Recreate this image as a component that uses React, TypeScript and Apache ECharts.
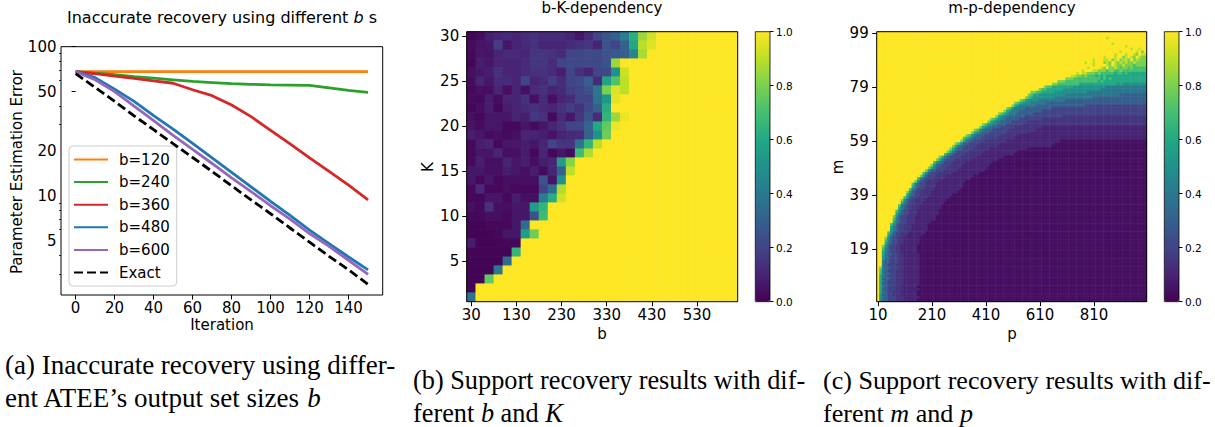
import React, { useEffect, useRef } from "react";
import * as echarts from "echarts";

// ---------------- (a) Inaccurate recovery ----------------
const iterations = [0, 10, 20, 30, 40, 50, 60, 70, 80, 90, 100, 110, 120, 130, 140, 150];
const errB120 = [68, 68, 68, 68, 68, 68, 68, 68, 68, 68, 68, 68, 68, 68, 68, 68];
const errB240 = [68, 66.5, 65, 63, 61.5, 60, 58.5, 57.5, 56.5, 56, 55.5, 55.3, 55, 53, 51, 49.4];
const errB360 = [68, 65.9, 63.5, 61.3, 59.1, 56.9, 51.5, 47, 40.7, 34, 27.5, 22.3, 18, 14.6, 11.8, 9.4];
const errB480 = [68, 62, 52, 43, 34.5, 28, 22.5, 18, 14.4, 11.5, 9.2, 7.4, 5.9, 4.8, 3.9, 3.2];
const errB600 = [68, 60, 50, 40, 32, 25.5, 20.5, 16.5, 13.2, 10.7, 8.6, 7, 5.6, 4.6, 3.7, 2.98];
const errExact = [66, 53.4, 43, 34.4, 27.8, 22.4, 18.1, 14.6, 11.7, 9.4, 7.6, 6.1, 4.9, 3.94, 3.2, 2.56];
const seriesNamesA = ["b=120", "b=240", "b=360", "b=480", "b=600", "Exact"];
const xTicksA = [0, 20, 40, 60, 80, 100, 120, 140];
const yTicksA = [5, 10, 20, 50, 100];
const yMinorTicksA = [3, 4, 6, 7, 8, 9, 30, 40, 60, 70, 80, 90];

// ---------------- (b) b-K-dependency ----------------
const bValues = [30, 50, 70, 90, 110, 130, 150, 170, 190, 210, 230, 250, 270, 290, 310, 330, 350, 370, 390, 410, 430, 450, 470, 490, 510, 530, 550, 570, 590, 610];
const kValues = [1, 2, 3, 4, 5, 6, 7, 8, 9, 10, 11, 12, 13, 14, 15, 16, 17, 18, 19, 20, 21, 22, 23, 24, 25, 26, 27, 28, 29, 30];
// rows from K=30 (top) down to K=1; cells not listed to the right are 1.0 (yellow)
const bkRows = [
  [0.01, 0.03, 0.08, 0.1, 0.12, 0.1, 0.12, 0.14, 0.12, 0.12, 0.12, 0.1, 0.06, 0.12, 0.2, 0.27, 0.3, 0.42, 0.63, 0.85, 0.93],
  [0.03, 0.05, 0.06, 0.18, 0.06, 0.1, 0.12, 0.14, 0.1, 0.1, 0.1, 0.12, 0.14, 0.16, 0.1, 0.25, 0.2, 0.3, 0.6, 0.9, 0.95],
  [0.02, 0.06, 0.05, 0.1, 0.12, 0.12, 0.1, 0.16, 0.16, 0.14, 0.12, 0.2, 0.22, 0.23, 0.22, 0.25, 0.28, 0.3, 0.45, 0.87],
  [0.01, 0.08, 0.06, 0.1, 0.1, 0.1, 0.12, 0.16, 0.15, 0.12, 0.2, 0.22, 0.22, 0.22, 0.22, 0.25, 0.85],
  [0.04, 0.06, 0.08, 0.14, 0.1, 0.1, 0.12, 0.14, 0.14, 0.12, 0.08, 0.2, 0.14, 0.1, 0.2, 0.22, 0.5, 0.92],
  [0.03, 0.1, 0.06, 0.12, 0.12, 0.1, 0.2, 0.1, 0.12, 0.18, 0.12, 0.2, 0.22, 0.3, 0.12, 0.58, 0.72, 0.9],
  [0.02, 0.04, 0.04, 0.1, 0.04, 0.1, 0.04, 0.12, 0.14, 0.1, 0.12, 0.18, 0.2, 0.25, 0.4, 0.8, 0.95, 0.9],
  [0.03, 0.02, 0.08, 0.03, 0.1, 0.1, 0.14, 0.04, 0.12, 0.04, 0.1, 0.12, 0.2, 0.2, 0.38, 0.52, 0.96],
  [0.02, 0.04, 0.08, 0.02, 0.08, 0.1, 0.12, 0.14, 0.12, 0.1, 0.14, 0.18, 0.14, 0.22, 0.3, 0.62],
  [0.04, 0.02, 0.06, 0.06, 0.06, 0.1, 0.08, 0.16, 0.14, 0.02, 0.12, 0.06, 0.15, 0.25, 0.12, 0.65, 0.85, 0.97],
  [0.05, 0.03, 0.06, 0.06, 0.02, 0.02, 0.06, 0.03, 0.06, 0.1, 0.14, 0.2, 0.2, 0.32, 0.6, 0.75, 0.97],
  [0.08, 0.06, 0.03, 0.04, 0.03, 0.04, 0.1, 0.1, 0.08, 0.05, 0.1, 0.12, 0.12, 0.3, 0.5, 0.78],
  [0.02, 0.08, 0.1, 0.02, 0.06, 0.06, 0.08, 0.06, 0.1, 0.2, 0.15, 0.15, 0.38, 0.65, 0.9],
  [0.02, 0.06, 0.06, 0.1, 0.04, 0.04, 0.08, 0.02, 0.1, 0.02, 0.06, 0.03, 0.68, 0.88],
  [0.02, 0.08, 0.04, 0.04, 0.1, 0.06, 0.08, 0.04, 0.08, 0.1, 0.55, 0.82],
  [0.06, 0.06, 0.04, 0.04, 0.08, 0.06, 0.04, 0.08, 0.03, 0.1, 0.3, 0.9],
  [0.06, 0.02, 0.06, 0.02, 0.04, 0.04, 0.04, 0.04, 0.25, 0.05, 0.5],
  [0.02, 0.12, 0.02, 0.02, 0.04, 0.02, 0.02, 0.02, 0.2, 0.35, 0.88],
  [0.02, 0.02, 0.06, 0.06, 0.02, 0.08, 0.04, 0.04, 0.42, 0.62, 0.93],
  [0.04, 0.02, 0.14, 0.04, 0.04, 0.06, 0.06, 0.55, 0.65],
  [0.02, 0.02, 0.04, 0.04, 0.02, 0.06, 0.06, 0.25, 0.68],
  [0.01, 0.01, 0.02, 0.02, 0.02, 0.06, 0.35],
  [0.01, 0.01, 0.01, 0.02, 0.06, 0.06, 0.55, 0.78],
  [0.08, 0.01, 0.01, 0.01, 0.02, 0.02],
  [0.01, 0.01, 0.01, 0.01, 0.01, 0.65],
  [0.01, 0.01, 0.01, 0.01, 0.35],
  [0.01, 0.01, 0.01, 0.4],
  [0.01, 0.01, 0.75],
  [0.01],
  [0.38],
];

// ---------------- (c) m-p-dependency ----------------
const pValues = [10, 20, 30, 40, 50, 60, 70, 80, 90, 100, 110, 120, 130, 140, 150, 160, 170, 180, 190, 200,
  210, 220, 230, 240, 250, 260, 270, 280, 290, 300, 310, 320, 330, 340, 350, 360, 370, 380, 390, 400,
  410, 420, 430, 440, 450, 460, 470, 480, 490, 500, 510, 520, 530, 540, 550, 560, 570, 580, 590, 600,
  610, 620, 630, 640, 650, 660, 670, 680, 690, 700, 710, 720, 730, 740, 750, 760, 770, 780, 790, 800,
  810, 820, 830, 840, 850, 860, 870, 880, 890, 900, 910, 920, 930, 940, 950, 960, 970, 980, 990, 1000];
const mValues = [0, 1, 2, 3, 4, 5, 6, 7, 8, 9, 10, 11, 12, 13, 14, 15, 16, 17, 18, 19,
  20, 21, 22, 23, 24, 25, 26, 27, 28, 29, 30, 31, 32, 33, 34, 35, 36, 37, 38, 39,
  40, 41, 42, 43, 44, 45, 46, 47, 48, 49, 50, 51, 52, 53, 54, 55, 56, 57, 58, 59,
  60, 61, 62, 63, 64, 65, 66, 67, 68, 69, 70, 71, 72, 73, 74, 75, 76, 77, 78, 79,
  80, 81, 82, 83, 84, 85, 86, 87, 88, 89, 90, 91, 92, 93, 94, 95, 96, 97, 98, 99];
// level codes: 0=.02 h=.04 1=.1 a=.15 2..9=.2...9 Y=1.0 ; "c*n" = n cells, "c*" = rest of row
const levelCodes: Record<string, number> = { "0": 0.02, h: 0.04, "1": 0.1, a: 0.15, "2": 0.2, "3": 0.3, "4": 0.4, "5": 0.5, "6": 0.6, "7": 0.7, "8": 0.8, "9": 0.9, Y: 1 };
// rows from m=99 (top) to m=0 (bottom), run-length coded
const mpRows = [
  "Y*", "Y*", "Y*85,9,Y*", "Y*", "Y*87,9,Y*", "Y*92,9,Y*", "Y*94,9,Y,Y,9,Y*", "Y*90,9,Y*5,9,Y,8,Y*",
  "Y*88,9,Y*3,9,Y,Y,9,8,Y,9*", "Y*84,9,Y*3,9,Y,Y,8,9,Y,9,8,Y,9,8*", "Y*80,9,Y*3,9,9,Y,8,9,Y,8,9,9,8,Y,8,9,8*",
  "Y*77,9,Y,Y,9,Y*3,8,9,8,Y,9,8,9,8,9,8,8,9,8*",
  "Y*80,9,Y*4,9,8,Y,9,8,8,9,8,8,8,7,8*",
  "Y*78,9,Y*4,9,8,Y,8,8,9,8,7,8,8,7,8,7,7*",
  "Y*76,9,Y*3,9,9,8,8,8,7,8,8,7,7,8,7,7,7,7,7*",
  "Y*74,9,Y,9,9,8,8,8,7,8,7,7,7,7,7,6,7,7,6,7,6,6*",
  "Y*72,9,9,8,8,7,8,7,7,7,6,7,6,7,6,6,6*",
  "Y*70,8,8,8,7*10,6,7,6,7,6*",
  "Y*67,8,8,8,7*12,6,7,6*",
  "Y*65,8,8,7*8,6*14,5,6,5*",
  "Y*62,8,7,7,6*8,5*12,4*",
  "Y*60,8,7,7,6*6,5*14,4*",
  "Y*57,8,8,7,7,6*5,5*12,4*",
  "Y*56,8,7,6,6,5*10,4*20,3*",
  "Y*55,8,7,6,5*8,4*14,3*",
  "Y*53,8,7,6,5*4,4*10,3*",
  "Y*51,8,7,6,5*3,4*6,3*",
  "Y*50,8,6,5,4*6,3*18,2*",
  "Y*48,8,7,5,4*4,3*10,2*",
  "Y*47,8,6,5,4*3,3*8,2*",
  "Y*45,8,7,6,5,4*3,3*6,2*",
  "Y*44,8,6,5,4*2,3*6,2*14,a*",
  "Y*42,8,7,6,5,4*2,3*5,2*8,a*",
  "Y*41,8,6,5,4*2,3*4,2*6,a*",
  "Y*39,8,7,5,5,4*2,3*3,2*6,a*",
  "Y*38,8,6,5,4*2,3*3,2*5,a*10,1*",
  "Y*36,8,7,5,4,3*3,2*6,a*10,1*",
  "Y*35,8,6,5,4,3*3,2*6,a*8,1*",
  "Y*33,8,7,5,4,3*3,2*6,a*6,1*",
  "Y*32,7,6,5,4,3*3,2*6,a*6,1*",
  "Y*31,8,6,4,3*2,2*4,a*8,1*20,h*",
  "Y*29,8,7,5,3*2,2*4,a*8,1*20,h*",
  "Y*28,8,6,4,3*2,2*4,a*8,1*20,h*",
  "Y*27,8,6,4,3*2,2*4,a*6,1*14,h*",
  "Y*26,8,6,4,3,2*4,a*6,1*12,h*",
  "Y*25,7,5,4,3,2*4,a*6,1*12,h*",
  "Y*23,8,6,4,3,2*4,a*6,1*10,h*",
  "Y*22,8,6,4,3,2*3,a*6,1*10,h*",
  "Y*21,7,5,4,3,2*3,a*5,1*10,h*",
  "Y*20,8,5,3*2,2*3,a*5,1*10,h*",
  "Y*19,8,6,4,3,2*3,a*5,1*10,h*",
  "Y*18,8,5,3*2,2*3,a*5,1*10,h*",
  "Y*17,7,5,3,2*3,a*5,1*10,h*",
  "Y*16,8,5,3,2*3,a*4,1*10,h*",
  "Y*15,7,4,3,2*3,a*4,1*10,h*",
  "Y*14,8,5,3,2*2,a*4,1*10,h*",
  "Y*13,7,4,3,2*2,a*4,1*10,h*",
  "Y*13,6,4,3,2*2,a*4,1*10,h*",
  "Y*12,7,4,3,2*2,a*4,1*10,h*",
  "Y*11,8,5,3,2*2,a*4,1*10,h*",
  "Y*11,6,4,3,2*2,a*4,1*8,h*",
  "Y*10,7,5,3,2*2,a*4,1*8,h*",
  "Y*9,8,5,3,2*2,a*4,1*8,h*",
  "Y*9,6,4,3,2*2,a*3,1*8,h*",
  "Y*8,7,4,3,2*2,a*3,1*8,h*",
  "Y*8,6,4,3,2*2,a*3,1*8,h*",
  "Y*7,7,5,3,2*2,a*3,1*8,h*",
  "Y*7,6,4,3,2*2,a*3,1*8,h*",
  "Y*6,8,5,3,2*2,a*3,1*8,h*",
  "Y*6,7,4,3,2*2,a*3,1*8,h*",
  "Y*6,6,4,3,2*2,a*3,1*6,h*",
  "Y*5,7,5,3,2*2,a*3,1*6,h*",
  "Y*5,6,4,3,2*2,a*3,1*6,h*",
  "Y*5,5,4,3,2*2,a*3,1*6,h*",
  "Y*4,7,5,3,2*2,a*3,1*6,h*",
  "Y*4,6,4,3,2*2,a*2,1*6,h*",
  "Y*3,8,5,3,2*2,a*2,1*6,h*",
  "Y*3,7,4,3,2*2,a*2,1*6,h*",
  "Y*3,6,4,3,2*2,a*2,1*6,h*",
  "Y*2,8,5,3,2*2,a*2,1*6,h*",
  "Y*2,7,4,3,2*2,a*2,1*6,h*",
  "Y*2,6,4,3,2*2,a*2,1*6,h*",
  "Y*2,6,4,3,3,2*2,a*2,1*6,h*",
  "Y*2,5,4,3,2*3,a*2,1*6,h*",
  "Y*2,5,3,3,2*3,a*2,1*6,h*",
  "Y*2,4,3,3,2*3,a*2,1*6,h*",
  "Y*2,4,3,2*3,a*3,1*6,h*",
  "Y,8,4,3,3,2*3,a*2,1*6,h*",
  "Y,7,4,3,2*3,a*3,1*6,h*",
  "Y,7,4,3,3,2*2,a*3,1*6,h*",
  "Y,6,4,3,2*3,a*3,1*6,h*",
  "Y,6,3,3,3,2*2,a*3,1*6,h*",
  "Y,6,4,3,2*3,a*3,1*6,h*",
  "Y,6,3,3,2*3,a*3,1*6,h*",
  "Y,6,4,3,2*2,a*3,1*6,h*",
  "Y,6,3,3,2*3,a*3,1*6,h*",
  "Y,6,4,3,2*2,a*3,1*6,h*",
  "Y,5,3,3,2*2,a*3,1*6,h*",
  "Y,5,4,3,2*3,a*3,1*6,h*",
  "Y,5,3,3,2*3,a*3,1*5,h*",
];

const viridis = ["#440154", "#482475", "#414487", "#355f8d", "#2a788e", "#21918c", "#22a884", "#44bf70", "#7ad151", "#bddf26", "#fde725"];

function expandRow(s: string, n: number): number[] {
  const out: number[] = [];
  s.split(",").forEach((tok) => {
    const parts = tok.split("*");
    const v = levelCodes[parts[0]];
    if (parts.length === 1) out.push(v);
    else if (parts[1] === "") { while (out.length < n) out.push(v); }
    else { const c = parseInt(parts[1], 10); for (let k = 0; k < c; k++) out.push(v); }
  });
  return out.slice(0, n);
}

const FONT = "DejaVu Sans";
const SERIF = "Liberation Serif";

const GA = { left: 61, top: 46.7, width: 321.7, height: 248.3 };
const GB = { left: 466.7, top: 31.7, width: 271, height: 270 };
const GC = { left: 876.7, top: 31.7, width: 270, height: 270 };
const CB1 = { left: 755.3, top: 31.7, width: 14.7, height: 270 };
const CB2 = { left: 1164.3, top: 31.7, width: 14.7, height: 270 };

function buildOption() {
  const lineColors = ["#ff7f0e", "#2ca02c", "#d62728", "#1f77b4", "#9467bd", "#000000"];
  const lineData = [errB120, errB240, errB360, errB480, errB600, errExact];
  const lineSeries = lineData.map((vals, si) => ({
    type: "line",
    name: seriesNamesA[si],
    xAxisIndex: 0,
    yAxisIndex: 0,
    symbol: "none",
    data: iterations.map((x, i) => [x, vals[i]]),
    itemStyle: { color: lineColors[si] },
    lineStyle: { color: lineColors[si], width: 2.8, type: si === 5 ? [9, 4] : "solid" },
    emphasis: { disabled: true },
    z: 3 + si,
  }));

  const bCells: number[][] = [];
  bkRows.forEach((row, r) => {
    const ki = kValues.length - 1 - r;
    for (let j = 0; j < bValues.length; j++) bCells.push([j, ki, j < row.length ? row[j] : 1]);
  });
  const cCells: number[][] = [];
  mpRows.forEach((rs, r) => {
    const mi = mValues.length - 1 - r;
    const vals = expandRow(rs, pValues.length);
    vals.forEach((v, j) => cCells.push([j, mi, v]));
  });

  const tickStyle = { lineStyle: { color: "#000", width: 1 } };
  const labelStyle = { color: "#000", fontFamily: FONT, fontSize: 15 };

  const border = (g: any, w = 1) => ({
    type: "rect",
    shape: { x: g.left, y: g.top, width: g.width, height: g.height },
    style: { fill: "none", stroke: "#000", lineWidth: w },
    z: 100,
    silent: true,
  });
  const txt = (x: number, y: number, text: string, size: number, family: string, align = "center", rotation = 0, rich?: any) => ({
    type: "text",
    x,
    y,
    rotation,
    z: 100,
    silent: true,
    style: {
      text,
      fontSize: size,
      fontFamily: family,
      fill: "#000",
      align,
      verticalAlign: "middle",
      textAlign: align,
      textVerticalAlign: "middle",
      rich,
    },
  });
  const italicSerif = (size: number) => ({
    n: { fontSize: size, fontFamily: SERIF, fill: "#000" },
    i: { fontStyle: "italic", fontSize: size, fontFamily: SERIF, fill: "#000" },
  });
  const titleRich = {
    n: { fontSize: 16, fontFamily: FONT, fill: "#000" },
    b: { fontStyle: "italic", fontSize: 16, fontFamily: FONT, fill: "#000" },
  };

  return {
    animation: false,
    backgroundColor: "#ffffff",
    grid: [
      { ...GA, show: true, borderColor: "#000", borderWidth: 1, backgroundColor: "transparent" },
      { ...GB },
      { ...GC },
      { ...CB1 },
      { ...CB2 },
    ],
    xAxis: [
      {
        gridIndex: 0, type: "value", min: -7.5, max: 157.5,
        axisLine: { show: false }, splitLine: { show: false },
        axisTick: { show: true, length: 4.5, customValues: xTicksA, ...tickStyle },
        axisLabel: { customValues: xTicksA, margin: 5, ...labelStyle },
      },
      {
        gridIndex: 1, type: "category", data: bValues.map(String),
        axisLine: { show: false }, splitLine: { show: false },
        axisTick: { show: true, alignWithLabel: true, interval: 4, length: 4.5, ...tickStyle },
        axisLabel: { interval: 4, margin: 6, ...labelStyle },
      },
      {
        gridIndex: 2, type: "category", data: pValues.map(String),
        axisLine: { show: false }, splitLine: { show: false },
        axisTick: { show: true, alignWithLabel: true, interval: 19, length: 4.5, ...tickStyle },
        axisLabel: { interval: 19, margin: 6, ...labelStyle },
      },
      { gridIndex: 3, type: "category", data: [""], show: false },
      { gridIndex: 4, type: "category", data: [""], show: false },
    ],
    yAxis: [
      {
        gridIndex: 0, type: "log", logBase: 10, min: 2.17, max: 100, position: "left",
        axisLine: { show: false }, splitLine: { show: false },
        axisTick: { show: true, length: 4, customValues: yTicksA, ...tickStyle },
        axisLabel: { customValues: yTicksA, margin: 4.5, ...labelStyle },
      },
      {
        gridIndex: 0, type: "log", logBase: 10, min: 2.17, max: 100, position: "left", offset: 0,
        axisLine: { show: false }, splitLine: { show: false },
        axisTick: { show: true, length: 2, customValues: yMinorTicksA, lineStyle: { color: "#000", width: 0.8 } },
        axisLabel: { show: false },
      },
      {
        gridIndex: 1, type: "category", data: kValues.map(String),
        axisLine: { show: false }, splitLine: { show: false },
        axisTick: { show: true, alignWithLabel: true, interval: (i: number) => (i + 1) % 5 === 0, length: 4.5, ...tickStyle },
        axisLabel: { interval: (i: number) => (i + 1) % 5 === 0, margin: 7.5, ...labelStyle },
      },
      {
        gridIndex: 2, type: "category", data: mValues.map(String),
        axisLine: { show: false }, splitLine: { show: false },
        axisTick: { show: true, alignWithLabel: true, interval: (i: number) => i % 20 === 19, length: 4.5, ...tickStyle },
        axisLabel: { interval: (i: number) => i % 20 === 19, margin: 8, ...labelStyle },
      },
      {
        gridIndex: 3, type: "value", min: 0, max: 1, interval: 0.2, position: "right",
        axisLine: { show: false }, splitLine: { show: false },
        axisTick: { show: true, length: 3.5, ...tickStyle },
        axisLabel: { margin: 6, color: "#000", fontFamily: FONT, fontSize: 10.5, formatter: (v: number) => v.toFixed(1) },
      },
      {
        gridIndex: 4, type: "value", min: 0, max: 1, interval: 0.2, position: "right",
        axisLine: { show: false }, splitLine: { show: false },
        axisTick: { show: true, length: 3.5, ...tickStyle },
        axisLabel: { margin: 6, color: "#000", fontFamily: FONT, fontSize: 10.5, formatter: (v: number) => v.toFixed(1) },
      },
    ],
    legend: {
      data: seriesNamesA,
      orient: "vertical",
      left: 69,
      top: 146,
      itemWidth: 34,
      itemHeight: 14,
      itemGap: 7.6,
      padding: [6, 7, 6, 4],
      backgroundColor: "#ffffff",
      borderColor: "#cccccc",
      borderWidth: 1,
      borderRadius: 4,
      itemStyle: { opacity: 0 },
      formatter: (name: string) => `{t|${name}}`,
      textStyle: {
        color: "#000", fontFamily: FONT, fontSize: 15,
        rich: { t: { padding: [0, 0, 0, 6], color: "#000", fontFamily: FONT, fontSize: 15 } },
      },
      selectedMode: false,
    },
    visualMap: [
      {
        type: "continuous", seriesIndex: 6, min: 0, max: 1, calculable: false, padding: 0,
        left: CB1.left, top: CB1.top, itemWidth: CB1.width, itemHeight: CB1.height,
        inRange: { color: viridis }, hoverLink: false,
      },
      {
        type: "continuous", seriesIndex: 7, min: 0, max: 1, calculable: false, padding: 0,
        left: CB2.left, top: CB2.top, itemWidth: CB2.width, itemHeight: CB2.height,
        inRange: { color: viridis }, hoverLink: false,
      },
    ],
    series: [
      ...lineSeries,
      { type: "heatmap", xAxisIndex: 1, yAxisIndex: 2, data: bCells, progressive: 0, emphasis: { disabled: true } },
      { type: "heatmap", xAxisIndex: 2, yAxisIndex: 3, data: cCells, progressive: 0, emphasis: { disabled: true } },
    ],
    graphic: [
      border(GB),
      border(GC),
      border(CB1, 0.8),
      border(CB2, 0.8),
      txt(222, 17, "{n|Inaccurate recovery using different }{b|b}{n| s}", 16, FONT, "center", 0, titleRich),
      txt(602, 8, "b-K-dependency", 15, FONT),
      txt(1012, 8, "m-p-dependency", 15, FONT),
      txt(17, 172, "Parameter Estimation Error", 15, FONT, "center", Math.PI / 2),
      txt(222, 325, "Iteration", 15, FONT),
      txt(428, 167, "K", 15, FONT, "center", Math.PI / 2),
      txt(602, 334, "b", 15, FONT),
      txt(838, 167, "m", 15, FONT, "center", Math.PI / 2),
      txt(1012, 334, "p", 15, FONT),
      txt(5, 365, "(a) Inaccurate recovery using differ-", 27, SERIF, "left"),
      txt(5, 398, "{n|ent ATEE\u2019s output set sizes }{i|b}", 27, SERIF, "left", 0, italicSerif(27)),
      txt(413, 380, "(b) Support recovery results with dif-", 26.3, SERIF, "left"),
      txt(413, 413, "{n|ferent }{i|b}{n| and }{i|K}", 26.3, SERIF, "left", 0, italicSerif(26.3)),
      txt(823, 380, "(c) Support recovery results with dif-", 26.1, SERIF, "left"),
      txt(823, 413, "{n|ferent }{i|m}{n| and }{i|p}", 26.1, SERIF, "left", 0, italicSerif(26.1)),
    ],
  };
}

export default function App() {
  const ref = useRef<HTMLDivElement>(null);
  useEffect(() => {
    if (!ref.current) return;
    const chart = echarts.init(ref.current, null, { renderer: "svg" });
    chart.setOption(buildOption() as any);
    return () => chart.dispose();
  }, []);
  return (
    <div
      ref={ref}
      style={{ position: "fixed", left: 0, top: 0, width: 1215, height: 427, background: "#ffffff" }}
    />
  );
}
